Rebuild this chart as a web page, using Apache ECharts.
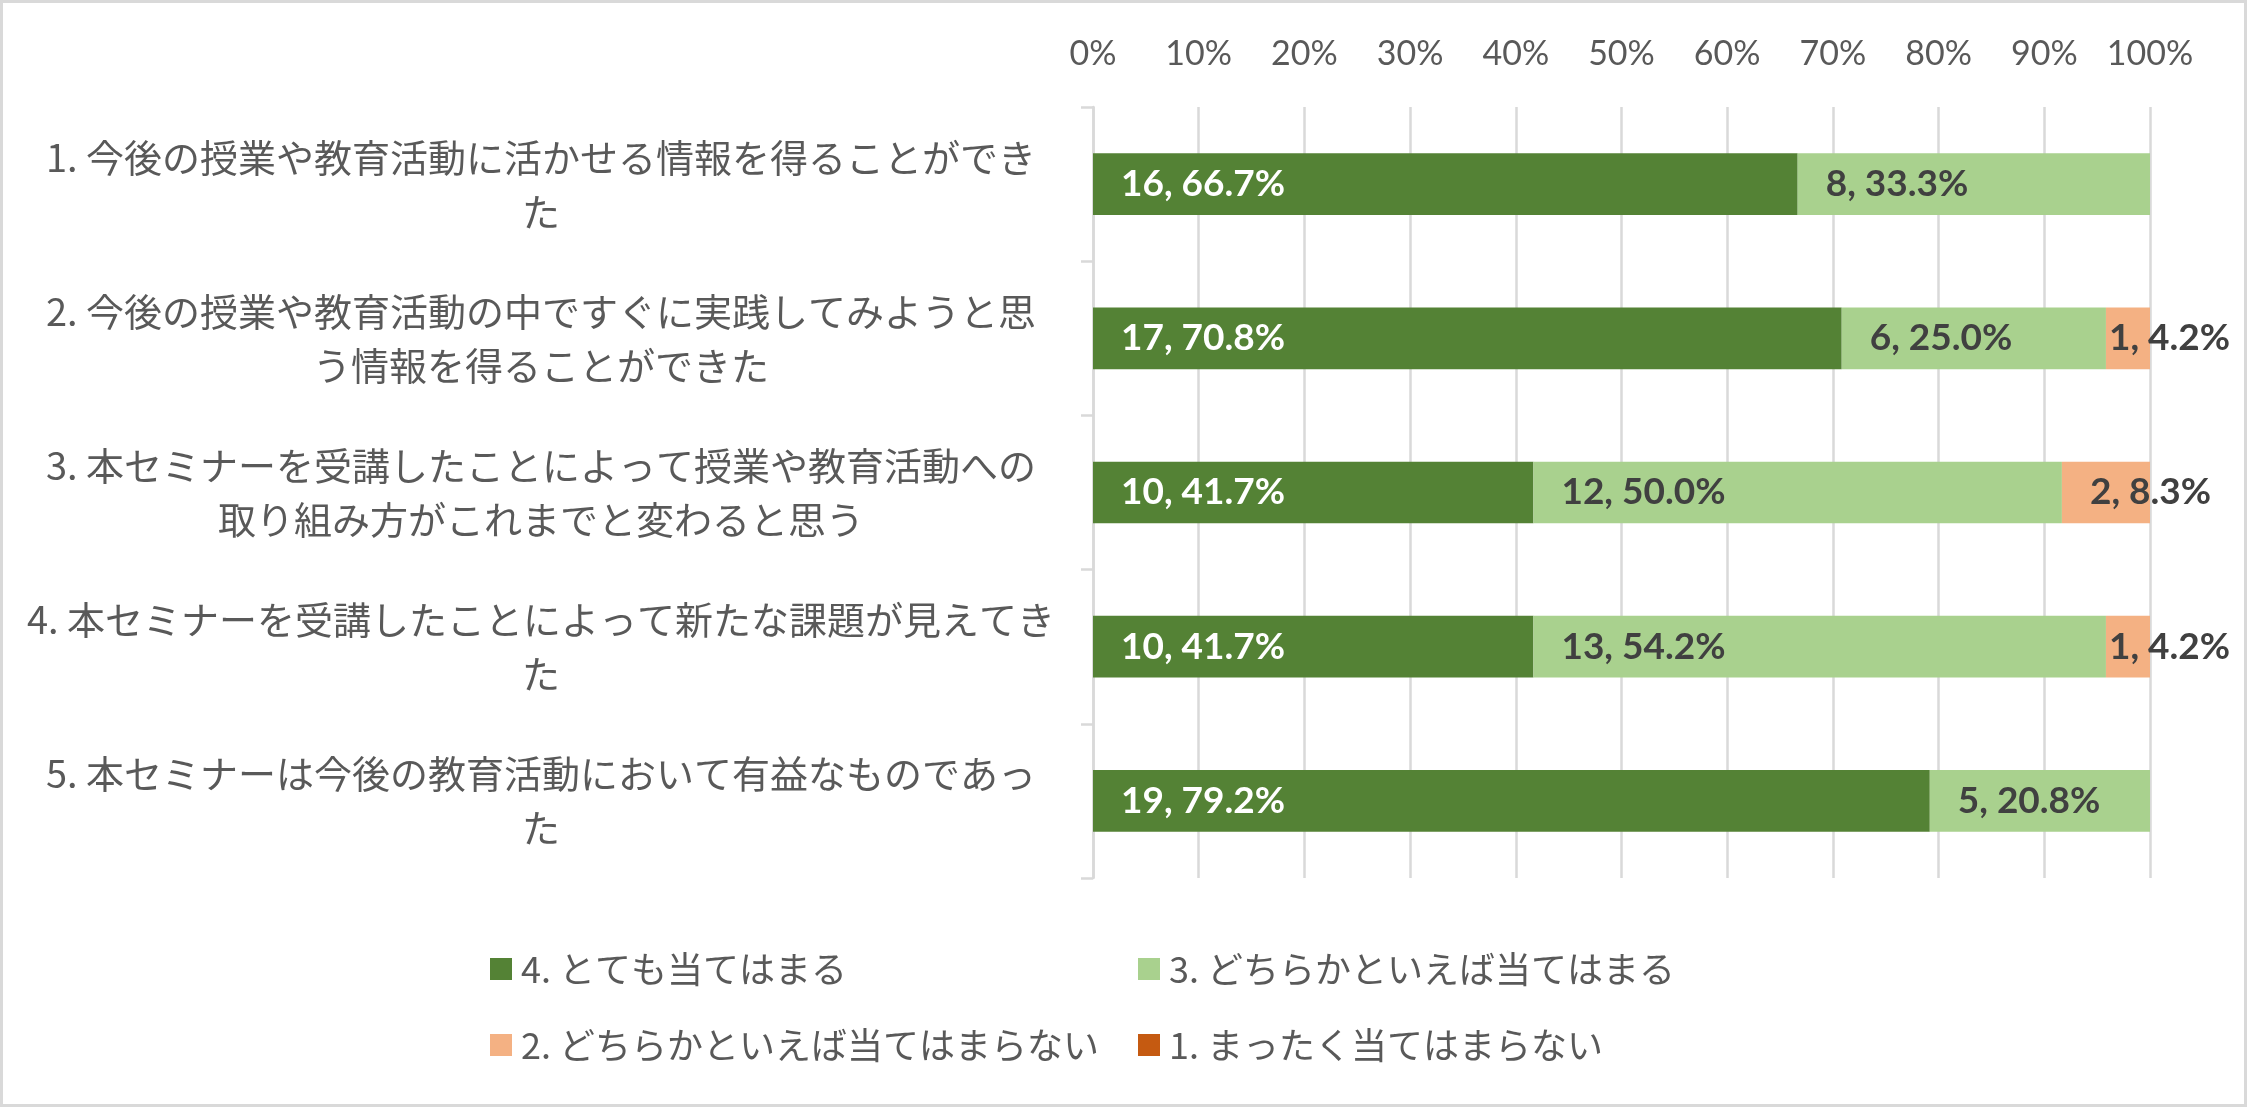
<!DOCTYPE html>
<html lang="ja">
<head>
<meta charset="utf-8">
<title>セミナーアンケート結果</title>
<script src="https://cdn.jsdelivr.net/npm/echarts@6/dist/echarts.min.js"></script>
<style>
    html, body {
        margin: 0;
        padding: 0;
        background: #fff;
    }
    #div_survey {
        width: 2247px;
        height: 1107px;
        border: 3px solid #d9d9d9;
        box-sizing: border-box;
    }
</style>
</head>
<body>
<div id="div_survey"></div>
<script>
// 設問（Excel と同じ位置で改行）
const categories = [
    '1. 今後の授業や教育活動に活かせる情報を得ることができ\nた',
    '2. 今後の授業や教育活動の中ですぐに実践してみようと思\nう情報を得ることができた',
    '3. 本セミナーを受講したことによって授業や教育活動への\n取り組み方がこれまでと変わると思う',
    '4. 本セミナーを受講したことによって新たな課題が見えてき\nた',
    '5. 本セミナーは今後の教育活動において有益なものであっ\nた'
];

// 回答区分
const answerNames = [
    '4. とても当てはまる',
    '3. どちらかといえば当てはまる',
    '2. どちらかといえば当てはまらない',
    '1. まったく当てはまらない'
];

// 回答人数
const veryTrue = [16, 17, 10, 10, 19];
const somewhatTrue = [8, 6, 12, 13, 5];
const somewhatNot = [0, 1, 2, 1, 0];
const notAtAll = [0, 0, 0, 0, 0];

// 横軸目盛り (%)
const tickValues = [0, 10, 20, 30, 40, 50, 60, 70, 80, 90, 100];

const colors = ['#548235', '#a9d18e', '#f4b183', '#c55a11'];
const labelColors = ['#ffffff', '#404040', '#404040', '#404040'];

/**
 * 初期化
 */
const initSurveyChart = function () {
    const counts = [veryTrue, somewhatTrue, somewhatNot, notAtAll];
    const totals = categories.map(function (c, i) {
        return counts.reduce(function (s, arr) {
            return s + arr[i];
        }, 0);
    });

    // 積み上げの開始位置（ラベルがはみ出すときは左へ寄せる）
    const starts = categories.map(function () {
        return 0;
    });

    const series = counts.map(function (arr, k) {
        const data = arr.map(function (n, i) {
            const pct = n / totals[i] * 100;
            const start = starts[i];
            starts[i] += pct;
            return {
                value: pct,
                count: n,
                label: {
                    distance: start > 95 ? 3 : 28
                }
            };
        });
        return {
            name: answerNames[k],
            type: 'bar',
            stack: 'total',
            barCategoryGap: '60%',
            itemStyle: {
                color: colors[k]
            },
            label: {
                show: true,
                position: 'insideLeft',
                color: labelColors[k],
                fontFamily: 'Lato, "Noto Sans", sans-serif',
                fontWeight: 'bold',
                fontSize: 37,
                formatter: function (p) {
                    if (!p.data.count) {
                        return '';
                    }
                    return p.data.count + ', ' + p.value.toFixed(1) + '%';
                }
            },
            emphasis: {
                disabled: true
            },
            data: data
        };
    });

    // 凡例は 2 列に並べる
    const legendPos = [
        {left: 487, top: 946},
        {left: 1135, top: 946},
        {left: 487, top: 1022},
        {left: 1135, top: 1022}
    ];
    const legends = answerNames.map(function (name, k) {
        return {
            data: [name],
            left: legendPos[k].left,
            top: legendPos[k].top,
            padding: 0,
            icon: 'rect',
            itemWidth: 22,
            itemHeight: 22,
            selectedMode: false,
            textStyle: {
                color: '#595959',
                fontSize: 36,
                lineHeight: 40,
                fontFamily: '"Noto Sans CJK JP", sans-serif',
                padding: [0, 0, 0, 4]
            }
        };
    });

    const option = {
        animation: false,
        color: colors,
        legend: legends,
        grid: {
            left: 1090,
            right: 94,
            top: 104,
            bottom: 226,
            containLabel: false
        },
        xAxis: {
            type: 'value',
            position: 'top',
            min: tickValues[0],
            max: tickValues[tickValues.length - 1],
            interval: tickValues[1] - tickValues[0],
            axisLine: {show: false},
            axisTick: {show: false},
            axisLabel: {
                margin: 36,
                color: '#595959',
                fontSize: 34,
                fontFamily: 'Lato, "Noto Sans", sans-serif',
                formatter: '{value}%'
            },
            splitLine: {
                lineStyle: {
                    color: '#d9d9d9',
                    width: 2.5
                }
            }
        },
        yAxis: {
            type: 'category',
            inverse: true,
            data: categories,
            axisLine: {
                lineStyle: {
                    color: '#d9d9d9',
                    width: 2.5
                }
            },
            axisTick: {
                show: true,
                length: 12,
                lineStyle: {
                    color: '#d9d9d9',
                    width: 2.5
                }
            },
            axisLabel: {
                margin: 552,
                align: 'center',
                color: '#595959',
                fontSize: 38,
                lineHeight: 54,
                fontFamily: '"Noto Sans CJK JP", sans-serif'
            }
        },
        series: series
    };

    const div_survey = echarts.init(document.getElementById('div_survey'));
    div_survey.setOption(option);
};

initSurveyChart();
</script>
</body>
</html>
